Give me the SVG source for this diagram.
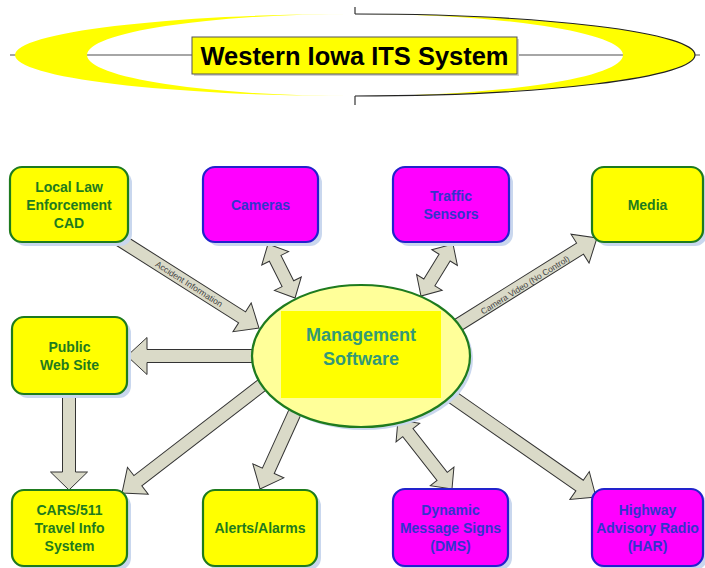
<svg xmlns="http://www.w3.org/2000/svg" width="705" height="568" viewBox="0 0 705 568">
<defs>
<style>
.box{stroke-width:2.2}
.g{fill:#FFFF00;stroke:#1E7B1E}
.m{fill:#FF00FF;stroke:#2222CC}
.sh{fill:#C9D7EE}
.tg{font-family:"Liberation Sans",Arial,sans-serif;font-weight:bold;font-size:14px;fill:#1E7B1E;text-anchor:middle}
.tm{font-family:"Liberation Sans",Arial,sans-serif;font-weight:bold;font-size:14px;fill:#3333CC;text-anchor:middle}
.arr{fill:#DADAC8;stroke:#333333;stroke-width:1;stroke-linejoin:miter}
.lbl{font-family:"Liberation Sans",Arial,sans-serif;font-size:8.5px;fill:#444444;text-anchor:middle}
</style>
</defs>
<rect width="705" height="568" fill="#FFFFFF"/>
<g id="title">
<line x1="10" y1="55" x2="700" y2="55" stroke="#888888" stroke-width="1.3"/>
<path d="M15,55 A340,41 0 1,0 695,55 A340,41 0 1,0 15,55 Z M87,55 A268,41 0 1,0 623,55 A268,41 0 1,0 87,55 Z" fill="#FFFF00" fill-rule="evenodd"/>
<path d="M355,14 A340,41 0 0,1 695,55 A340,41 0 0,1 355,96" fill="none" stroke="#222222" stroke-width="1.2"/>
<line x1="355" y1="7" x2="355" y2="14" stroke="#333333" stroke-width="1.2"/>
<line x1="355" y1="96" x2="355" y2="105" stroke="#333333" stroke-width="1.2"/>
<rect x="194" y="39" width="325" height="37" fill="#D0D0D0"/>
<rect x="192" y="37" width="325" height="37" fill="#FFFF00" stroke="#555555" stroke-width="1"/>
<text x="354.5" y="65" font-family="Liberation Sans,Arial,sans-serif" font-weight="bold" font-size="26" fill="#000000" text-anchor="middle" textLength="308" lengthAdjust="spacingAndGlyphs">Western Iowa ITS System</text>
</g>
<g id="connectors">
<path class="arr" transform="translate(120,240) rotate(32.34)" d="M0,-6.5 L144.5,-6.5 L144.5,-17 L164.5,0 L144.5,17 L144.5,6.5 L0,6.5 Z"/>
<text class="lbl" transform="translate(189,284) rotate(32.34)" y="3">Accident Information</text>
<path class="arr" transform="translate(268,244) rotate(63.4)" d="M0,0 L16,-15 L16,-6.5 L44.4,-6.5 L44.4,-15 L60.4,0 L44.4,15 L44.4,6.5 L16,6.5 L16,15 Z"/>
<path class="arr" transform="translate(453,244) rotate(121.6)" d="M0,0 L16,-15 L16,-6.5 L45.1,-6.5 L45.1,-15 L61.1,0 L45.1,15 L45.1,6.5 L16,6.5 L16,15 Z"/>
<path class="arr" transform="translate(450,330) rotate(-32.04)" d="M0,-6.5 L153.4,-6.5 L153.4,-17 L173.4,0 L153.4,17 L153.4,6.5 L0,6.5 Z"/>
<text class="lbl" transform="translate(525,285) rotate(-32.04)" y="3">Camera Video (No Control)</text>
<path class="arr" transform="translate(256,356) rotate(180)" d="M0,-6.5 L109,-6.5 L109,-18.5 L129,0 L109,18.5 L109,6.5 L0,6.5 Z"/>
<path class="arr" transform="translate(69,394) rotate(90)" d="M0,-6.5 L78,-6.5 L78,-18.5 L96,0 L78,18.5 L78,6.5 L0,6.5 Z"/>
<path class="arr" transform="translate(262,385) rotate(142.35)" d="M0,-6.5 L156.8,-6.5 L156.8,-17 L176.8,0 L156.8,17 L156.8,6.5 L0,6.5 Z"/>
<path class="arr" transform="translate(295,412) rotate(114.4)" d="M0,-6.5 L64.6,-6.5 L64.6,-17 L84.6,0 L64.6,17 L64.6,6.5 L0,6.5 Z"/>
<path class="arr" transform="translate(398,420) rotate(51.95)" d="M0,0 L16,-15 L16,-6.5 L71.6,-6.5 L71.6,-15 L87.6,0 L71.6,15 L71.6,6.5 L16,6.5 L16,15 Z"/>
<path class="arr" transform="translate(445,392) rotate(34.8)" d="M0,-6.5 L163.9,-6.5 L163.9,-17 L183.9,0 L163.9,17 L163.9,6.5 L0,6.5 Z"/>
</g>
<g id="management">
<ellipse cx="364" cy="359" rx="109" ry="71" fill="#C9D7EE"/>
<ellipse cx="361" cy="356" rx="109" ry="71" fill="#FFFF99" stroke="#1E7B1E" stroke-width="2.2"/>
<rect x="281" y="311" width="160" height="87" fill="#FFFF00"/>
<text x="361" y="341" font-family="Liberation Sans,Arial,sans-serif" font-weight="bold" font-size="18" fill="#339977" text-anchor="middle">Management</text>
<text x="361" y="365" font-family="Liberation Sans,Arial,sans-serif" font-weight="bold" font-size="18" fill="#339977" text-anchor="middle">Software</text>
</g>
<g id="law">
<rect class="sh" x="14" y="171" width="118" height="75" rx="12"/>
<rect class="box g" x="10" y="167" width="118" height="75" rx="12"/>
<text class="tg" x="69" y="191.5">Local Law</text>
<text class="tg" x="69" y="209.5">Enforcement</text>
<text class="tg" x="69" y="227.5">CAD</text>
</g>
<g id="cameras">
<rect class="sh" x="207" y="171" width="115" height="75" rx="12"/>
<rect class="box m" x="203" y="167" width="115" height="75" rx="12"/>
<text class="tm" x="260.5" y="209.5">Cameras</text>
</g>
<g id="sensors">
<rect class="sh" x="397" y="171" width="116" height="75" rx="12"/>
<rect class="box m" x="393" y="167" width="116" height="75" rx="12"/>
<text class="tm" x="451" y="200.5">Traffic</text>
<text class="tm" x="451" y="218.5">Sensors</text>
</g>
<g id="media">
<rect class="sh" x="596" y="171" width="111" height="75" rx="12"/>
<rect class="box g" x="592" y="167" width="111" height="75" rx="12"/>
<text class="tg" x="647.5" y="209.5">Media</text>
</g>
<g id="web">
<rect class="sh" x="16" y="321" width="115" height="77" rx="12"/>
<rect class="box g" x="12" y="317" width="115" height="77" rx="12"/>
<text class="tg" x="69.5" y="351.5">Public</text>
<text class="tg" x="69.5" y="369.5">Web Site</text>
</g>
<g id="cars">
<rect class="sh" x="16" y="494" width="115" height="76" rx="12"/>
<rect class="box g" x="12" y="490" width="115" height="76" rx="12"/>
<text class="tg" x="69.5" y="515">CARS/511</text>
<text class="tg" x="69.5" y="533">Travel Info</text>
<text class="tg" x="69.5" y="551">System</text>
</g>
<g id="alerts">
<rect class="sh" x="207" y="494" width="114" height="76" rx="12"/>
<rect class="box g" x="203" y="490" width="114" height="76" rx="12"/>
<text class="tg" x="260" y="533">Alerts/Alarms</text>
</g>
<g id="dms">
<rect class="sh" x="397" y="493" width="115" height="77" rx="12"/>
<rect class="box m" x="393" y="489" width="115" height="77" rx="12"/>
<text class="tm" x="450.5" y="514.5">Dynamic</text>
<text class="tm" x="450.5" y="532.5">Message Signs</text>
<text class="tm" x="450.5" y="550.5">(DMS)</text>
</g>
<g id="har">
<rect class="sh" x="596" y="493" width="111" height="77" rx="12"/>
<rect class="box m" x="592" y="489" width="111" height="77" rx="12"/>
<text class="tm" x="647.5" y="514.5">Highway</text>
<text class="tm" x="647.5" y="532.5">Advisory Radio</text>
<text class="tm" x="647.5" y="550.5">(HAR)</text>
</g>
</svg>
